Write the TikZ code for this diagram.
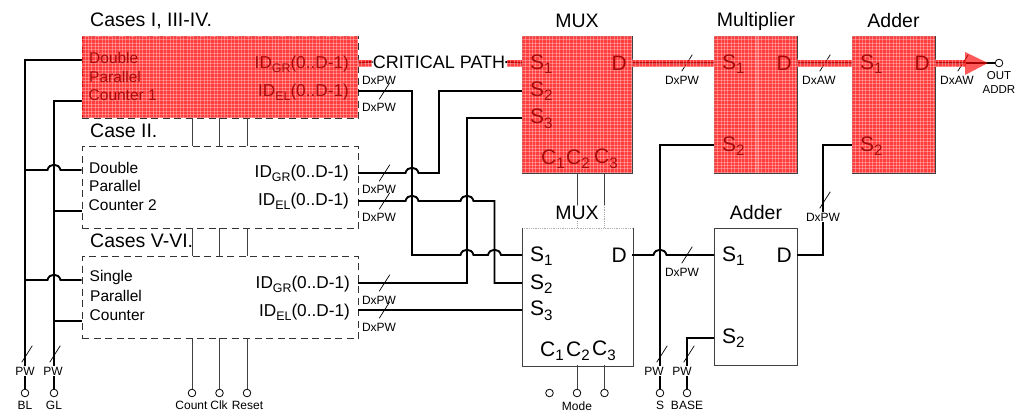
\documentclass[tikz,border=0pt]{standalone}
\usepackage{fontspec}
\usepackage{graphicx}
\setmainfont{Liberation Sans}
\newcommand\fs[1]{\fontsize{#1}{#1}\selectfont}
\newcommand\subsc[1]{\raisebox{-.22em}{\scalebox{.72}{#1}}}
\newcommand\idgr{ID\subsc{GR}(0..D-1)}
\newcommand\idel{ID\subsc{EL}(0..D-1)}
\newcommand\redgrid[4]{%
  \fill[red,opacity=.76] (#1,#2) rectangle (#3,#4);
  \begin{scope}
    \clip (#1,#2) rectangle (#3,#4);
    \foreach \i in {0,...,90} {
      \draw[gridline] ({#1+\i*3.4},#2) -- ({#1+\i*3.4},#4);
    }
    \foreach \i in {0,...,45} {
      \draw[gridline] (#1,{#2+\i*3.4}) -- (#3,{#2+\i*3.4});
    }
  \end{scope}}
\newcommand\tick[2]{\draw[slash] ({#1-5.3},{#2+8.3}) -- ({#1+5.3},{#2-8.3});}
\definecolor{redtxt}{RGB}{170,10,10}
\tikzset{
  x=1pt,y=-1pt,
  gridline/.style={white,opacity=.3,line width=.6pt},
  caseBox/.style={draw=black!80,dashed,dash pattern=on 7pt off 4.5pt,line width=1pt,anchor=north west,minimum width=276.5pt,minimum height=82pt,inner sep=0pt},
  solidBox/.style={draw=black!75,line width=1pt,anchor=north west,inner sep=0pt},
  wire/.style={black,line width=1.9pt},
  busw/.style={black,line width=2.3pt},
  ctrl/.style={black!75,line width=1pt},
  slash/.style={black,line width=.7pt},
  pinc/.style={circle,draw=black,fill=white,line width=.8pt,minimum size=7.6pt,inner sep=0pt},
  title/.style={inner sep=0pt,font=\fs{19.5}},
  lefttext/.style={inner sep=0pt,anchor=west,font=\fs{15.5}},
  idtext/.style={inner sep=0pt,anchor=east,font=\fs{17.2}},
  port/.style={inner sep=0pt,anchor=west,font=\fs{21}},
  small/.style={inner sep=0pt,font=\fs{12}},
  smallw/.style={small,fill=white,inner sep=1pt},
  onred/.style={text=redtxt},
  hop/.style 2 args={insert path={-- ({#1-6.5},#2) .. controls ({#1-5},{#2-7}) and ({#1+5},{#2-7}) .. ({#1+6.5},#2)}},
}
\begin{document}
\begin{tikzpicture}
\useasboundingbox (0,0) rectangle (1018,415);
% boxes
\node[caseBox] (c1) at (81.5,36) {};
\node[caseBox] (c2) at (81.5,146) {};
\node[caseBox] (c3) at (81.5,256) {};
\node[solidBox,minimum width=110pt,minimum height=137pt] (m1) at (522,36) {};
\node[solidBox,minimum width=110pt,minimum height=137pt,draw=none] (m2) at (522,228) {};
\draw[black!30,densely dotted,line width=.8pt] (m2.north west) -- (m2.north east);
\draw[black!75,line width=1pt] (m2.north east) -- (m2.south east) -- (m2.south west) -- (m2.north west);
\node[solidBox,minimum width=83pt,minimum height=137pt] (mu) at (714,36) {};
\node[solidBox,minimum width=83pt,minimum height=137pt] (a1) at (852,36) {};
\node[solidBox,minimum width=83pt,minimum height=137pt] (a2) at (714,228) {};
% ports
\coordinate (c1bl) at (81.5,60); \coordinate (c1gl) at (81.5,101);
\coordinate (c2bl) at (81.5,170); \coordinate (c2gl) at (81.5,211);
\coordinate (c3bl) at (81.5,280); \coordinate (c3gl) at (81.5,321);
\coordinate (c1gr) at (358,63); \coordinate (c1el) at (358,91);
\coordinate (c2gr) at (358,173); \coordinate (c2el) at (358,201);
\coordinate (c3gr) at (358,283); \coordinate (c3el) at (358,310);
\coordinate (m1s1) at (522,63); \coordinate (m1s2) at (522,91); \coordinate (m1s3) at (522,118); \coordinate (m1d) at (632,63);
\coordinate (m2s1) at (522,255); \coordinate (m2s2) at (522,283); \coordinate (m2s3) at (522,310); \coordinate (m2d) at (632,255);
\coordinate (mus1) at (714,63); \coordinate (mus2) at (714,145); \coordinate (mud) at (797,63);
\coordinate (a1s1) at (852,63); \coordinate (a1s2) at (852,145); \coordinate (a1d) at (935,63);
\coordinate (a2s1) at (714,255); \coordinate (a2s2) at (714,338); \coordinate (a2d) at (797,255);
% pins
\node[pinc] (pbl) at (25,393) {}; \node[pinc] (pgl) at (54,393) {};
\node[pinc] (pco) at (192,393) {}; \node[pinc] (pcl) at (219.5,393) {}; \node[pinc] (pre) at (247,393) {};
\node[pinc] (pm0) at (549.5,393) {}; \node[pinc] (pm1) at (577,393) {}; \node[pinc] (pm2) at (604.5,393) {};
\node[pinc] (ps) at (660,393) {}; \node[pinc] (pb) at (687,393) {};
\node[pinc] (pout) at (999,63) {};
% left buses
\draw[busw] (c1bl) -- (25,60) -- (pbl.north);
\draw[busw] (c1gl) -- (54,101) -- (pgl.north);
\draw[wire] (25,170) [hop={54}{170}] -- (c2bl);
\draw[wire] (25,280) [hop={54}{280}] -- (c3bl);
\draw[wire] (54,211) -- (c2gl);
\draw[wire] (54,321) -- (c3gl);
% control lines
\foreach \x in {192,219.5,247} {
  \draw[ctrl] (\x,118) -- (\x,146);
  \draw[ctrl] (\x,228) -- (\x,256);
}
\draw[ctrl] (192,338) -- (pco.north);
\draw[ctrl] (219.5,338) -- (pcl.north);
\draw[ctrl] (247,338) -- (pre.north);
\draw[ctrl] (577,173) -- (577,205);
\draw[ctrl] (604.5,173) -- (604.5,205);
\draw[black!35,densely dotted,line width=.8pt] (577,205) -- (577,228);
\draw[black!35,densely dotted,line width=.8pt] (604.5,205) -- (604.5,228);
\draw[ctrl] (577,365) -- (pm1.north);
\draw[ctrl] (604.5,365) -- (pm2.north);
% data wires
\node[inner sep=0pt,font=\fs{18}] (crit) at (439,62) {CRITICAL PATH};
\draw[wire] (c1gr) -- (crit.west);
\draw[wire] (crit.east) -- (m1s1);
\draw[wire] (c1el) -- (412,91) -- (412,255) [hop={467}{255}] [hop={494.5}{255}] -- (m2s1);
\draw[wire] (c2gr) [hop={412}{173}] -- (439,173) -- (439,91) -- (m1s2);
\draw[wire] (c2el) [hop={412}{201}] [hop={467}{201}] -- (494.5,201) -- (494.5,283) -- (m2s2);
\draw[wire] (c3gr) -- (467,283) -- (467,118) -- (m1s3);
\draw[wire] (c3el) -- (m2s3);
\draw[wire] (m1d) -- (mus1);
\draw[wire] (mud) -- (a1s1);
\draw[wire] (a1d) -- (pout.west);
\draw[wire] (m2d) [hop={660}{255}] -- (a2s1);
\draw[wire] (mus2) -- (660,145) -- (ps.north);
\draw[wire] (a2s2) -- (687,338) -- (pb.north);
\draw[wire] (a2d) -- (823,255) -- (823,145) -- (a1s2);
% ticks
\tick{384.5}{91} \tick{384.5}{173} \tick{384.5}{201} \tick{384.5}{283} \tick{384.5}{310}
\tick{687}{63} \tick{825}{63} \tick{963}{63} \tick{687}{255} \tick{825}{200}
\tick{27}{354} \tick{55}{354} \tick{662}{354} \tick{689}{354}
% texts
\node[title,anchor=west] (t1) at (90,21) {Cases I, III-IV.};
\node[title,anchor=west] (t2) at (90,131) {Case II.};
\node[title,anchor=west] (t3) at (90,241) {Cases V-VI.};
\node[title] (t4) at (577,21) {MUX};
\node[title,fill=white,inner sep=.5pt] (t5) at (577,213) {MUX};
\node[title] (t6) at (756,21) {Multiplier};
\node[title] (t7) at (893.5,21) {Adder};
\node[title] (t8) at (756,213) {Adder};
\node[lefttext] (l21) at (89,168) {Double};
\node[lefttext] (l22) at (89,186) {Parallel};
\node[lefttext] (l23) at (88.5,205) {Counter 2};
\node[lefttext] (l31) at (89.5,277) {Single};
\node[lefttext] (l32) at (90,296) {Parallel};
\node[lefttext] (l33) at (89.5,315) {Counter};
\node[idtext] (i21) at (349,173) {\idgr};
\node[idtext] (i22) at (349,201) {\idel};
\node[idtext] (i31) at (350,284) {\idgr};
\node[idtext] (i32) at (350,312) {\idel};
% port labels
\node[port] (s21) at (530,256) {S\subsc{1}};
\node[port] (s22) at (530,284) {S\subsc{2}};
\node[port] (s23) at (530,311) {S\subsc{3}};
\node[port,anchor=east] (d2) at (627,255) {D};
\node[port] (c21) at (540,351) {C\subsc{1}};
\node[port] (c22) at (566,351) {C\subsc{2}};
\node[port] (c23) at (592,351) {C\subsc{3}};
\node[port] (s51) at (722,256) {S\subsc{1}};
\node[port] (s52) at (722,338) {S\subsc{2}};
\node[port,anchor=east] (d5) at (792,255) {D};
% small labels
\node[small] (w3) at (379,189) {DxPW};
\node[small] (w4) at (379,217) {DxPW};
\node[small] (w5) at (379,300) {DxPW};
\node[small] (w6) at (379,327) {DxPW};
\node[small] (w7) at (682,80) {DxPW};
\node[small] (w8) at (682,272) {DxPW};
\node[small] (w1) at (379,80) {DxPW};
\node[small] (w2) at (379,107) {DxPW};
\node[small] (w9) at (819,80) {DxAW};
\node[small] (w10) at (957,80) {DxAW};
\node[smallw] (w11) at (823,217) {DxPW};
\node[smallw] (p1) at (25,371) {PW};
\node[smallw] (p2) at (53,371) {PW};
\node[smallw] (p3) at (654,371) {PW};
\node[smallw] (p4) at (682,371) {PW};
\node[small] (b1) at (25,405) {BL};
\node[small] (b2) at (54,405) {GL};
\node[small] (b3) at (191.5,405) {Count};
\node[small] (b4) at (219,405) {Clk};
\node[small] (b5) at (247.5,405) {Reset};
\node[small] (b6) at (577,406) {Mode};
\node[small] (b7) at (660,405) {S};
\node[small] (b8) at (687,405) {BASE};
\node[small,font=\fs{11.5}] (b9) at (999,75.5) {OUT};
\node[small,font=\fs{11.5}] (b10) at (999,90) {ADDR};
% critical path overlay
\redgrid{81.5}{36}{358}{118}
\redgrid{522}{36}{632}{173}
\redgrid{714}{36}{797}{173}
\redgrid{852}{36}{935}{173}
\fill[white,opacity=.18] (755,36) rectangle (759,173);
\redgrid{358}{59.5}{372}{67}
\redgrid{507}{59.5}{522}{67}
\redgrid{632}{59.5}{714}{67}
\redgrid{797}{59.5}{852}{67}
\redgrid{935}{59.5}{966}{67}
\fill[red,opacity=.65] (965,52) -- (988,63) -- (965,75) -- cycle;
% labels seen through the red overlay
\node[lefttext,onred] (l11) at (89,58) {Double};
\node[lefttext,onred] (l12) at (89,76.5) {Parallel};
\node[lefttext,onred] (l13) at (88.5,95) {Counter 1};
\node[idtext,onred] (i11) at (349,64) {\idgr};
\node[idtext,onred] (i12) at (349,92) {\idel};
\node[port,onred] (s11) at (530,64) {S\subsc{1}};
\node[port,onred] (s12) at (530,91) {S\subsc{2}};
\node[port,onred] (s13) at (530,119) {S\subsc{3}};
\node[port,anchor=east,onred] (d1) at (627,63) {D};
\node[port,onred] (c11) at (541,159) {C\subsc{1}};
\node[port,onred] (c12) at (566,159) {C\subsc{2}};
\node[port,onred] (c13) at (594,159) {C\subsc{3}};
\node[port,onred] (s31) at (722,64) {S\subsc{1}};
\node[port,onred] (s32) at (722,146) {S\subsc{2}};
\node[port,anchor=east,onred] (d3) at (792,63) {D};
\node[port,onred] (s41) at (860,64) {S\subsc{1}};
\node[port,onred] (s42) at (860,146) {S\subsc{2}};
\node[port,anchor=east,onred] (d4) at (930,63) {D};
\end{tikzpicture}
\end{document}
